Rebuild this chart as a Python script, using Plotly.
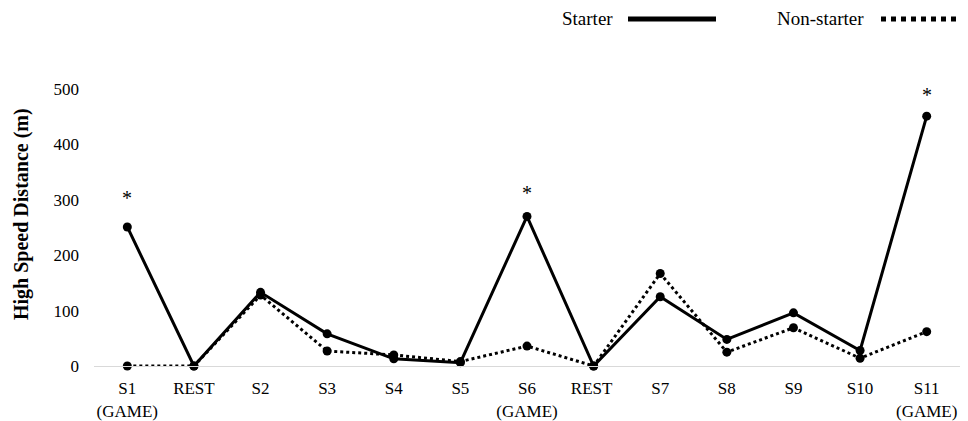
import plotly.graph_objects as go

categories = ["S1<br>(GAME)", "REST", "S2", "S3", "S4", "S5", "S6<br>(GAME)", "REST ", "S7", "S8", "S9", "S10", "S11<br>(GAME)"]
starter = [251, 0, 133, 58, 13, 6, 270, 0, 125, 48, 96, 28, 451]
non_starter = [0, 0, 128, 27, 20, 8, 36, 0, 167, 25, 69, 14, 62]
y_ticks = [0, 100, 200, 300, 400, 500]
sig_categories = ["S1<br>(GAME)", "S6<br>(GAME)", "S11<br>(GAME)"]
sig_values = [251, 270, 451]
sig_shift = [29, 23, 21]

FONT = "Liberation Serif"

fig = go.Figure()
fig.add_trace(go.Scatter(
    x=categories, y=non_starter, mode="lines+markers", name="Non-starter",
    line=dict(color="black", width=3, dash="dot"),
    marker=dict(color="black", size=9), cliponaxis=False, showlegend=False))
fig.add_trace(go.Scatter(
    x=categories, y=starter, mode="lines+markers", name="Starter",
    line=dict(color="black", width=3),
    marker=dict(color="black", size=9), cliponaxis=False, showlegend=False))

for c, v, s in zip(sig_categories, sig_values, sig_shift):
    fig.add_annotation(x=c, y=v, text="*", showarrow=False, yshift=s,
                       font=dict(family=FONT, size=20, color="black"))

# y-axis title
fig.add_annotation(xref="paper", yref="paper", x=(21 - 94) / 866, y=(366 - 214) / 277,
                   text="<b>High Speed Distance (m)</b>", textangle=-90, showarrow=False,
                   xanchor="center", yanchor="middle",
                   font=dict(family=FONT, size=20, color="black"))

# legend (text then line sample)
LY = (366 - 19) / 277
fig.add_annotation(xref="paper", yref="paper", x=(615 - 94) / 866, y=LY, xanchor="right", yanchor="middle",
                   text="Starter", showarrow=False, font=dict(family=FONT, size=19, color="black"))
fig.add_shape(type="line", xref="paper", yref="paper", x0=(628 - 94) / 866, x1=(716 - 94) / 866,
              y0=LY, y1=LY, line=dict(color="black", width=5))
fig.add_annotation(xref="paper", yref="paper", x=(866 - 94) / 866, y=LY, xanchor="right", yanchor="middle",
                   text="Non-starter", showarrow=False, font=dict(family=FONT, size=19, color="black"))
fig.add_shape(type="line", xref="paper", yref="paper", x0=(881 - 94) / 866, x1=(962 - 94) / 866,
              y0=LY, y1=LY, line=dict(color="black", width=5, dash="dot"))

fig.update_layout(
    width=960, height=413,
    margin=dict(l=86, r=8, t=81, b=55, autoexpand=False),
    paper_bgcolor="white", plot_bgcolor="white",
    font=dict(family=FONT, size=17, color="black"),
    xaxis=dict(type="category", range=[-0.5, len(categories) - 0.5], showgrid=False, showline=True,
               linecolor="#d9d9d9", linewidth=1,
               ticks="", tickfont=dict(family=FONT, size=17, color="black"), zeroline=False,
               automargin=False, ticklabelstandoff=7),
    yaxis=dict(range=[0, 500], tickvals=y_ticks, showgrid=False, zeroline=False, showline=False,
               ticks="", tickfont=dict(family=FONT, size=17, color="black"), ticklabelstandoff=14,
               automargin=False),
)

fig.write_html("out.html")
